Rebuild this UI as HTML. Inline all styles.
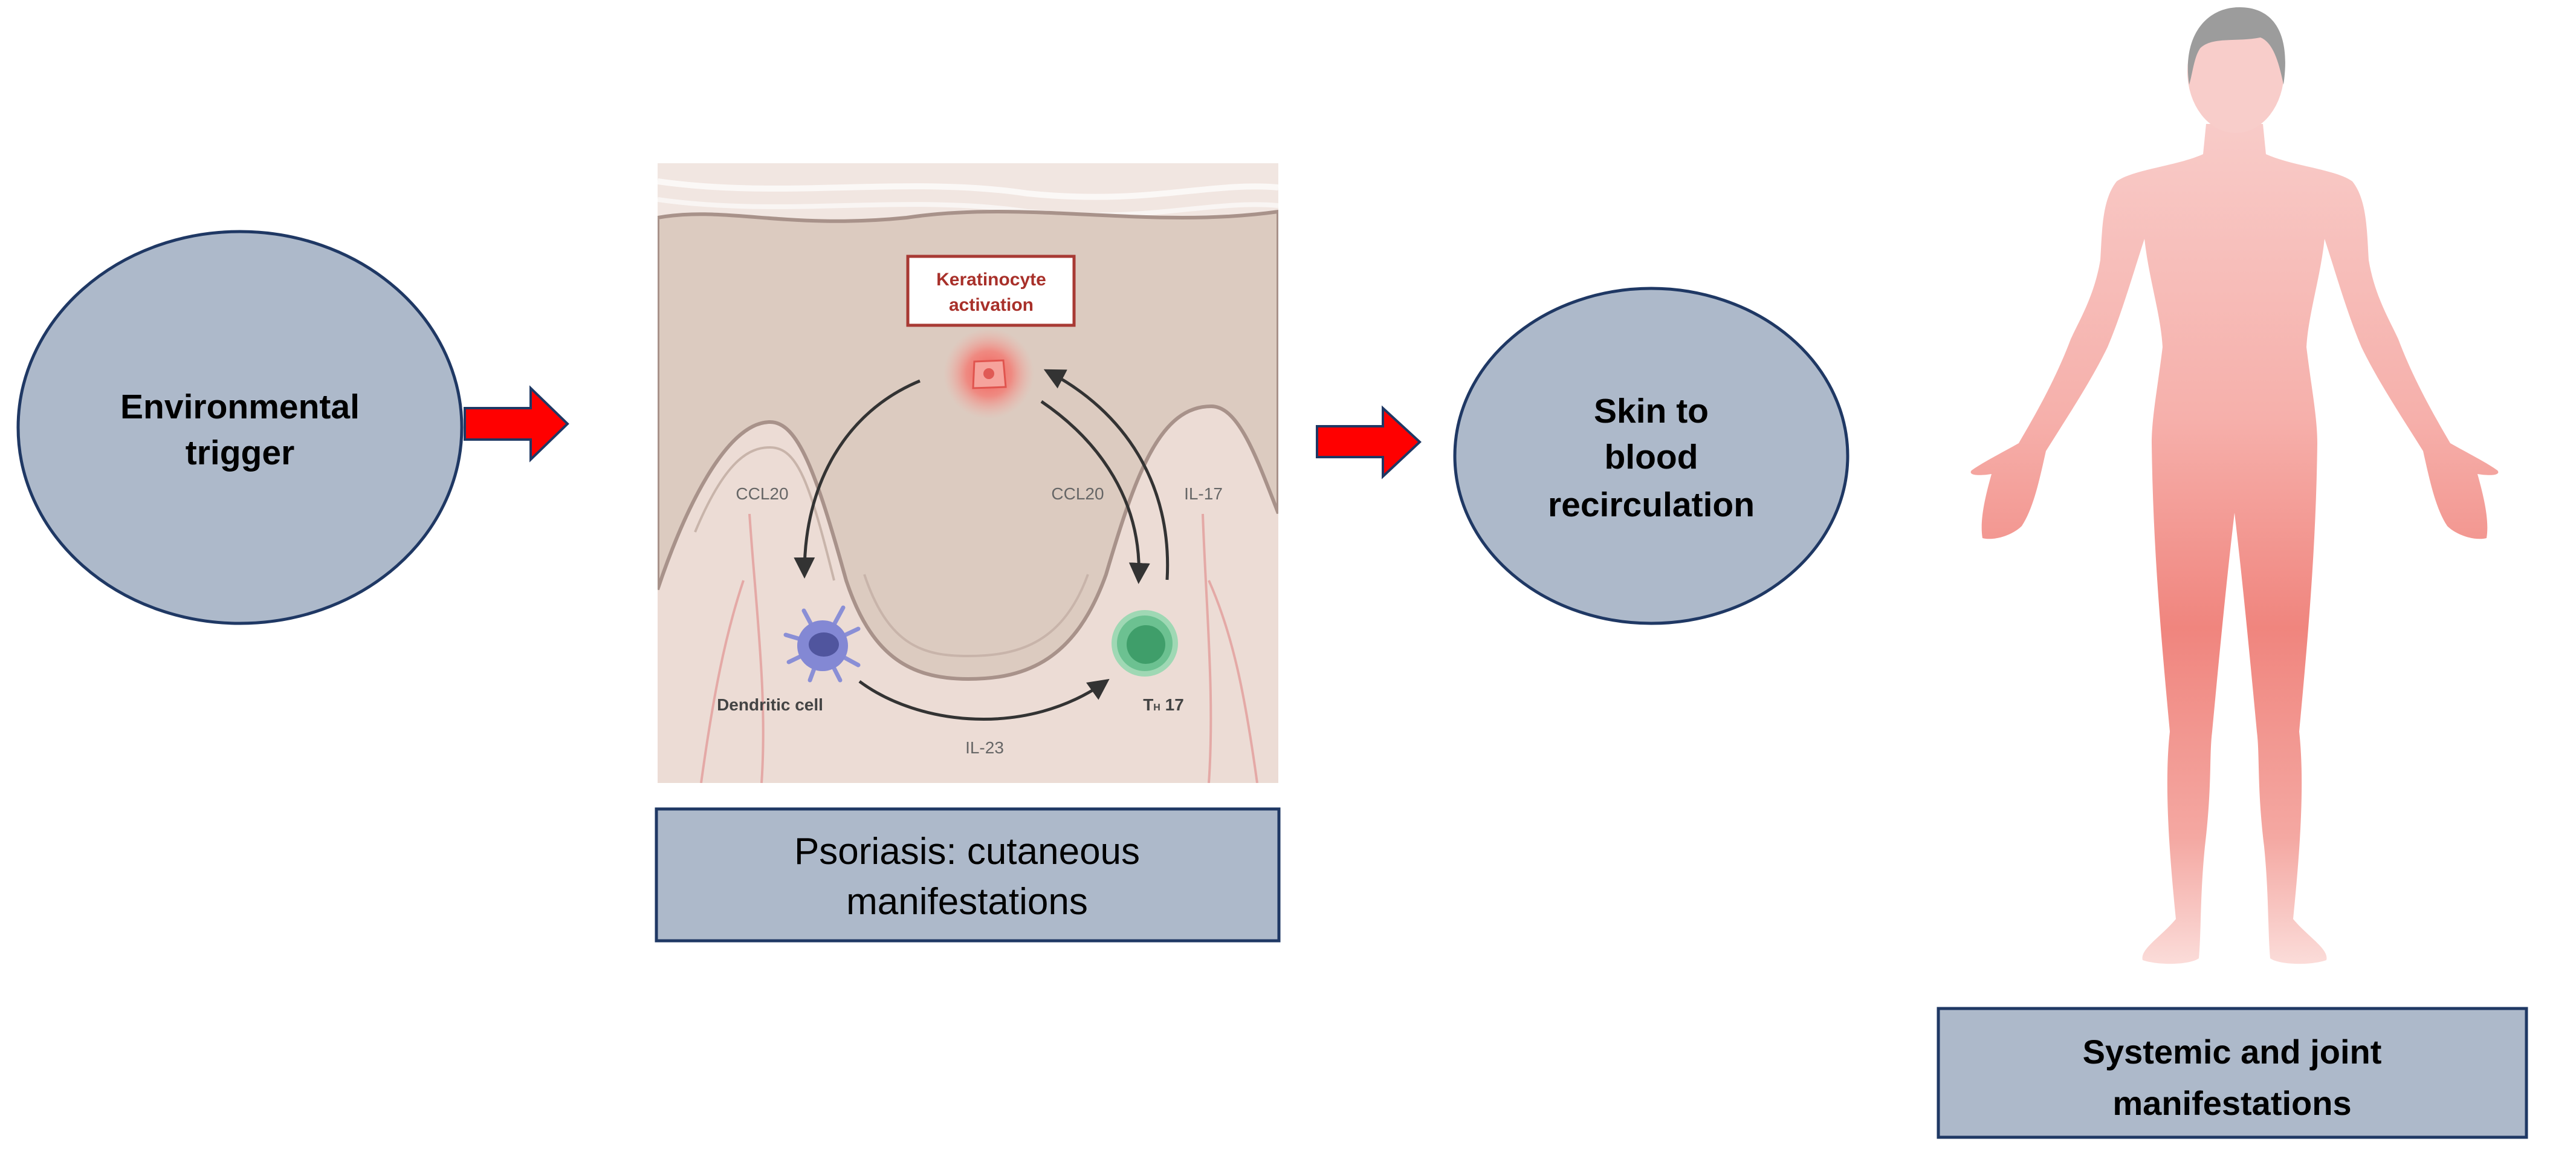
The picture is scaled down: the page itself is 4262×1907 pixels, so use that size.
<!DOCTYPE html>
<html><head><meta charset="utf-8"><style>
html,body{margin:0;padding:0;background:#fff;}
svg{display:block;}
</style></head><body>
<svg width="4262" height="1907" viewBox="0 0 4262 1907" xmlns="http://www.w3.org/2000/svg">
<defs>
<linearGradient id="bodyg" x1="0" y1="0" x2="0" y2="1">
<stop offset="0" stop-color="#f8cbc8"/>
<stop offset="0.35" stop-color="#f6b0ab"/>
<stop offset="0.6" stop-color="#f0857e"/>
<stop offset="0.85" stop-color="#f4a8a2"/>
<stop offset="1" stop-color="#fbdcd9"/>
</linearGradient>
<radialGradient id="glow"><stop offset="0" stop-color="#f05a55"/><stop offset="0.5" stop-color="#f47a72" stop-opacity="0.8"/><stop offset="1" stop-color="#f4a9a0" stop-opacity="0"/></radialGradient>
<marker id="ah" viewBox="0 0 10 10" refX="8" refY="5" markerWidth="7" markerHeight="7" orient="auto"><path d="M0,0 L10,5 L0,10 z" fill="#333"/></marker>
<clipPath id="skinclip"><rect x="1088" y="270" width="1027" height="1025"/></clipPath>
</defs>

<!-- Ellipse 1 -->
<ellipse cx="397" cy="707" rx="367" ry="324" fill="#adb9ca" stroke="#1f3864" stroke-width="5"/>
<text x="397" y="692" font-family="Liberation Sans, sans-serif" font-weight="bold" font-size="57" text-anchor="middle" fill="#000">Environmental</text>
<text x="397" y="768" font-family="Liberation Sans, sans-serif" font-weight="bold" font-size="57" text-anchor="middle" fill="#000">trigger</text>

<!-- Arrow 1 -->
<path d="M769,675 L878,675 L878,642 L939,701 L878,760 L878,727 L769,727 Z" fill="#ff0000" stroke="#1f3864" stroke-width="4"/>

<!-- Skin image -->
<g clip-path="url(#skinclip)">
<rect x="1088" y="270" width="1027" height="1025" fill="#ecdcd5"/>
<path d="M1088,270 H2115 V350 C1900,380 1700,330 1500,360 C1300,380 1200,340 1088,360 Z" fill="#f1e6e1"/>
<path d="M1088,300 C1300,330 1500,290 1700,320 C1900,340 2000,300 2115,310" fill="none" stroke="#fff" stroke-width="10" opacity="0.7"/>
<path d="M1088,330 C1300,360 1500,320 1700,350 C1900,370 2000,330 2115,340" fill="none" stroke="#fff" stroke-width="8" opacity="0.6"/>
<path d="M1088,360 C1200,340 1300,380 1500,360 C1700,330 1900,380 2115,350 V849 C2080,760 2050,672 2004,672 C1920,672 1880,780 1830,950 C1780,1090 1700,1123 1602,1123 C1500,1123 1440,1080 1400,960 C1350,780 1320,698 1274,698 C1200,698 1130,850 1088,975 Z" fill="#dccbc0" stroke="#a8928a" stroke-width="6"/>
<path d="M1150,880 C1200,760 1240,740 1274,740 C1320,740 1340,800 1380,960" fill="none" stroke="#c8b4aa" stroke-width="4"/>
<path d="M1430,950 C1470,1070 1530,1085 1602,1085 C1690,1085 1760,1060 1800,950" fill="none" stroke="#c8b4aa" stroke-width="4"/>
<path d="M1240,850 C1250,1000 1270,1150 1260,1295 M1230,960 C1200,1050 1180,1150 1160,1295 M1990,850 C1995,1000 2010,1150 2000,1295 M2000,960 C2040,1050 2060,1150 2080,1295" fill="none" stroke="#e4a9a6" stroke-width="4"/>
<rect x="1502" y="424" width="275" height="114" fill="#fff" stroke="#a83a34" stroke-width="5"/>
<text x="1640" y="472" font-family="Liberation Sans, sans-serif" font-weight="bold" font-size="30" text-anchor="middle" fill="#a8302a">Keratinocyte</text>
<text x="1640" y="514" font-family="Liberation Sans, sans-serif" font-weight="bold" font-size="30" text-anchor="middle" fill="#a8302a">activation</text>
<circle cx="1636" cy="618" r="75" fill="url(#glow)"/>
<path d="M1612,598 L1660,596 L1664,640 L1610,642 Z" fill="#f6a39c" stroke="#e0544e" stroke-width="3"/>
<circle cx="1636" cy="618" r="9" fill="#e05a55"/>
<path d="M1522,630 C1400,680 1330,800 1331,950" fill="none" stroke="#333" stroke-width="5" marker-end="url(#ah)"/>
<path d="M1723,664 C1820,730 1890,830 1884,959" fill="none" stroke="#333" stroke-width="5" marker-end="url(#ah)"/>
<path d="M1931,959 C1940,800 1860,680 1733,614" fill="none" stroke="#333" stroke-width="5" marker-end="url(#ah)"/>
<path d="M1422,1127 C1520,1200 1700,1220 1830,1127" fill="none" stroke="#333" stroke-width="5" marker-end="url(#ah)"/>
<text x="1261" y="826" font-family="Liberation Sans, sans-serif" font-size="28" text-anchor="middle" fill="#666">CCL20</text>
<text x="1783" y="826" font-family="Liberation Sans, sans-serif" font-size="28" text-anchor="middle" fill="#666">CCL20</text>
<text x="1991" y="826" font-family="Liberation Sans, sans-serif" font-size="28" text-anchor="middle" fill="#666">IL-17</text>
<g stroke="#8a8fd6" stroke-width="7" stroke-linecap="round">
<line x1="1361" y1="1068" x2="1300" y2="1050"/><line x1="1361" y1="1068" x2="1420" y2="1040"/><line x1="1361" y1="1068" x2="1330" y2="1010"/><line x1="1361" y1="1068" x2="1395" y2="1005"/><line x1="1361" y1="1068" x2="1305" y2="1095"/><line x1="1361" y1="1068" x2="1420" y2="1100"/><line x1="1361" y1="1068" x2="1340" y2="1125"/><line x1="1361" y1="1068" x2="1390" y2="1125"/>
</g>
<circle cx="1361" cy="1068" r="42" fill="#8388d4"/>
<ellipse cx="1363" cy="1066" rx="25" ry="20" fill="#50559e"/>
<circle cx="1894" cy="1064" r="55" fill="#9fd8b4"/>
<circle cx="1894" cy="1064" r="46" fill="#6cc191"/>
<circle cx="1896" cy="1066" r="32" fill="#3f9e6a"/>
<text x="1274" y="1175" font-family="Liberation Sans, sans-serif" font-weight="bold" font-size="28" text-anchor="middle" fill="#444">Dendritic cell</text>
<text x="1925" y="1175" font-family="Liberation Sans, sans-serif" font-weight="bold" font-size="28" text-anchor="middle" fill="#444">T<tspan font-size="16">H</tspan> 17</text>
<text x="1629" y="1246" font-family="Liberation Sans, sans-serif" font-size="28" text-anchor="middle" fill="#666">IL-23</text>
</g>

<!-- Psoriasis box -->
<rect x="1086" y="1338" width="1030" height="218" fill="#adb9ca" stroke="#1f3864" stroke-width="5"/>
<text x="1600" y="1429" font-family="Liberation Sans, sans-serif" font-size="62" text-anchor="middle" fill="#000">Psoriasis: cutaneous</text>
<text x="1600" y="1512" font-family="Liberation Sans, sans-serif" font-size="62" text-anchor="middle" fill="#000">manifestations</text>

<!-- Arrow 2 -->
<path d="M2179,705 L2288,705 L2288,675 L2349,731 L2288,788 L2288,756 L2179,756 Z" fill="#ff0000" stroke="#1f3864" stroke-width="4"/>

<!-- Ellipse 2 -->
<ellipse cx="2732" cy="754" rx="325" ry="277" fill="#adb9ca" stroke="#1f3864" stroke-width="5"/>
<text x="2732" y="699" font-family="Liberation Sans, sans-serif" font-weight="bold" font-size="57" text-anchor="middle" fill="#000">Skin to</text>
<text x="2732" y="775" font-family="Liberation Sans, sans-serif" font-weight="bold" font-size="57" text-anchor="middle" fill="#000">blood</text>
<text x="2732" y="854" font-family="Liberation Sans, sans-serif" font-weight="bold" font-size="57" text-anchor="middle" fill="#000">recirculation</text>

<!-- Human -->
<g>
<path id="half" d="M3697,205 L3650,205 L3645,255 C3600,275 3530,280 3502,300 C3478,330 3478,380 3475,430 C3465,490 3440,530 3426,561 C3400,630 3365,690 3340,733 C3310,750 3280,765 3262,778 C3256,785 3270,788 3295,784 C3285,820 3275,860 3280,890 C3300,895 3330,885 3345,870 C3365,840 3375,790 3385,746 C3420,690 3460,630 3487,574 C3510,520 3530,450 3548,395 C3555,460 3575,520 3578,574 C3570,640 3560,690 3560,733 C3562,900 3575,1050 3590,1210 C3580,1300 3590,1420 3600,1520 C3575,1550 3540,1570 3545,1588 C3575,1598 3625,1595 3638,1585 C3642,1540 3640,1480 3648,1400 C3660,1300 3655,1250 3660,1210 C3675,1050 3685,950 3697,848 L3700,848 L3700,205 Z" fill="url(#bodyg)" stroke="none"/>
<use href="#half" transform="translate(7394,0) scale(-1,1)"/>
<ellipse cx="3699" cy="118" rx="80" ry="102" fill="#f8cdca"/>
<path d="M3622,140 C3610,60 3650,12 3705,12 C3765,12 3790,60 3778,140 C3770,100 3760,70 3740,62 C3700,70 3660,60 3640,80 C3630,95 3628,120 3622,140 Z" fill="#9c9c9c"/>
</g>

<!-- Systemic box -->
<rect x="3207" y="1668" width="973" height="213" fill="#adb9ca" stroke="#1f3864" stroke-width="5"/>
<text x="3693" y="1759" font-family="Liberation Sans, sans-serif" font-weight="bold" font-size="56" text-anchor="middle" fill="#000">Systemic and joint</text>
<text x="3693" y="1844" font-family="Liberation Sans, sans-serif" font-weight="bold" font-size="56" text-anchor="middle" fill="#000">manifestations</text>
</svg>
</body></html>
